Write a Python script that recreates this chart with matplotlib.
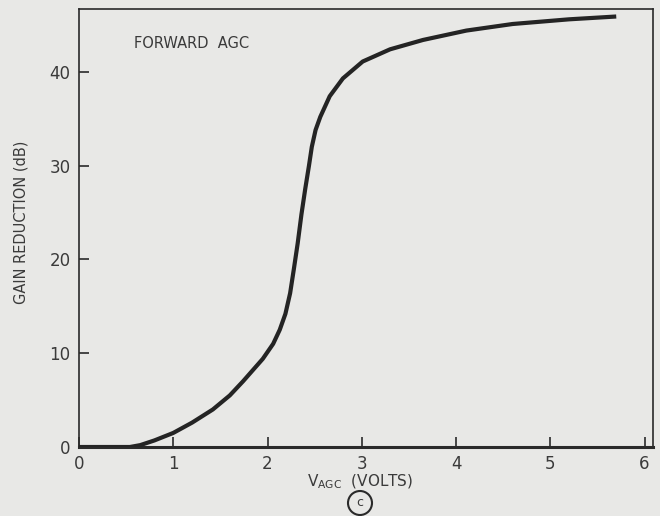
import matplotlib.pyplot as plt
from matplotlib.patches import Ellipse

# 読み取った値 (V_AGC [V], 利得低下 [dB])
v_agc = [0.0, 0.54, 0.65, 0.8, 1.0, 1.2, 1.42, 1.6, 1.74, 1.95, 2.06, 2.13,
         2.19, 2.24, 2.28, 2.32, 2.36, 2.40, 2.44, 2.47, 2.51, 2.56, 2.66,
         2.80, 3.01, 3.30, 3.65, 4.11, 4.6, 5.2, 5.7]
gain_red = [0.0, 0.0, 0.2, 0.7, 1.5, 2.6, 4.0, 5.5, 7.0, 9.4, 11.0, 12.5,
            14.2, 16.4, 19.0, 21.7, 24.8, 27.5, 30.0, 32.0, 33.8, 35.2, 37.4,
            39.3, 41.1, 42.4, 43.4, 44.4, 45.1, 45.6, 45.9]

x_ticks = [0, 1, 2, 3, 4, 5, 6]
y_ticks = [0, 10, 20, 30, 40]

bg = '#e8e8e6'
ink = '#2a2a2a'
txt = '#3a3a3a'

fig = plt.figure(figsize=(6.6, 5.16), dpi=100, facecolor=bg)
ax = fig.add_axes([79 / 660, 69 / 516, 574 / 660, 438 / 516], facecolor=bg)

ax.plot(v_agc, gain_red, color='#242424', linewidth=3.0,
        solid_joinstyle='round', solid_capstyle='butt', zorder=3)

ax.set_xlim(0, 6.09)
ax.set_ylim(0, 46.7)
ax.set_xticks(x_ticks)
ax.set_yticks(y_ticks)
ax.tick_params(direction='in', length=7, width=1.2, colors=ink,
               labelsize=12, labelcolor=txt)
ax.tick_params(axis='x', pad=6)
ax.tick_params(axis='y', pad=6)
for s in ax.spines.values():
    s.set_color(ink)
    s.set_linewidth(1.2)
ax.spines['bottom'].set_linewidth(2.2)

ax.text(0.58, 43.0, 'FORWARD  AGC', fontsize=10.5, color=txt,
        va='center', ha='left')

fig.text(360 / 660, 1 - 482 / 516, r'$\mathregular{V_{AGC}}$  (VOLTS)',
         fontsize=11, color=txt, ha='center', va='center')
fig.text(360 / 660, 1 - 503 / 516, 'c', fontsize=9, color=txt,
         ha='center', va='center')
fig.patches.append(Ellipse((360 / 660, 1 - 503 / 516), 24 / 660, 24 / 516,
                           transform=fig.transFigure, fill=False,
                           edgecolor=ink, linewidth=1.5))
fig.text(21 / 660, 1 - 222 / 516, 'GAIN REDUCTION (dB)', fontsize=10.5,
         color=txt, rotation=90, ha='center', va='center')

plt.savefig('out.png', dpi=100, facecolor=bg)
